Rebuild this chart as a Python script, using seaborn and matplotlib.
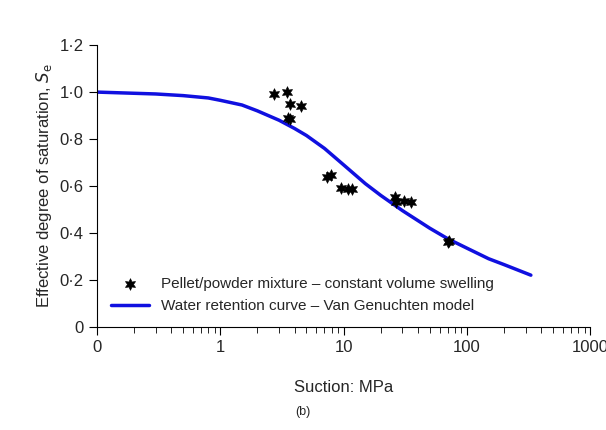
import numpy as np
import matplotlib.pyplot as plt
import seaborn as sns
from matplotlib.ticker import FixedLocator, LogLocator, NullFormatter

# measured points
suction_pts = [2.75, 3.5, 3.65, 3.55, 3.7, 4.55, 7.3, 7.9, 9.6, 10.8, 11.6, 26, 26.5, 31, 35, 71, 70]
se_pts = [0.99, 1.0, 0.95, 0.89, 0.885, 0.94, 0.64, 0.645, 0.59, 0.585, 0.585, 0.555, 0.53, 0.535, 0.53, 0.365, 0.36]

# van Genuchten curve
suction_curve = [0.1, 0.3, 0.5, 0.8, 1, 1.5, 2, 3, 4, 5, 7, 10, 15, 20, 30, 50, 70, 100, 150, 200, 330]
se_curve = [1.0, 0.992, 0.985, 0.975, 0.965, 0.945, 0.92, 0.88, 0.845, 0.815, 0.76, 0.69, 0.61, 0.56, 0.495, 0.42, 0.375, 0.335, 0.29, 0.265, 0.22]

sns.set_style("ticks")
plt.rcParams['font.family'] = ['Liberation Sans', 'DejaVu Sans']

fig, ax = plt.subplots(figsize=(6.06, 4.30), dpi=100)
fig.subplots_adjust(left=0.16, right=0.974, top=0.895, bottom=0.24)

sns.lineplot(x=suction_curve, y=se_curve, color='#1010e0', linewidth=2.5, ax=ax,
             label='Water retention curve \u2013 Van Genuchten model', zorder=2)
sns.scatterplot(x=suction_pts, y=se_pts, marker=(6, 1, 0), s=70, color='black',
                linewidth=0.5, edgecolor='black', ax=ax, zorder=3,
                label='Pellet/powder mixture \u2013 constant volume swelling')

ax.set_xscale('log')
ax.set_xlim(0.1, 1000)
ax.set_ylim(0, 1.2)
ax.xaxis.set_major_locator(FixedLocator([0.1, 1, 10, 100, 1000]))
ax.set_xticklabels(['0', '1', '10', '100', '1000'])
ax.xaxis.set_minor_locator(LogLocator(subs=np.arange(2, 10), numticks=20))
ax.xaxis.set_minor_formatter(NullFormatter())
ax.set_yticks([0, 0.2, 0.4, 0.6, 0.8, 1.0, 1.2])
ax.set_yticklabels(['0', '0\u00b72', '0\u00b74', '0\u00b76', '0\u00b78', '1\u00b70', '1\u00b72'])
ax.tick_params(axis='both', which='major', length=6, labelsize=12, color='black')
ax.tick_params(axis='x', which='minor', length=4, color='black')
for s in ['top', 'right']:
    ax.spines[s].set_visible(False)
for s in ['left', 'bottom']:
    ax.spines[s].set_color('black')

ax.set_xlabel('Suction: MPa', fontsize=12, labelpad=18)
ax.set_ylabel('Effective degree of saturation, $S_\\mathrm{e}$', fontsize=12)
h, l = ax.get_legend_handles_labels()
ax.legend(h[::-1], l[::-1], loc='lower left', frameon=False, fontsize=11, handlelength=2.5,
          bbox_to_anchor=(0.0, 0.0))
fig.text(0.5, 0.035, '(b)', ha='center', fontsize=9)

fig.savefig('out.png', dpi=100)
